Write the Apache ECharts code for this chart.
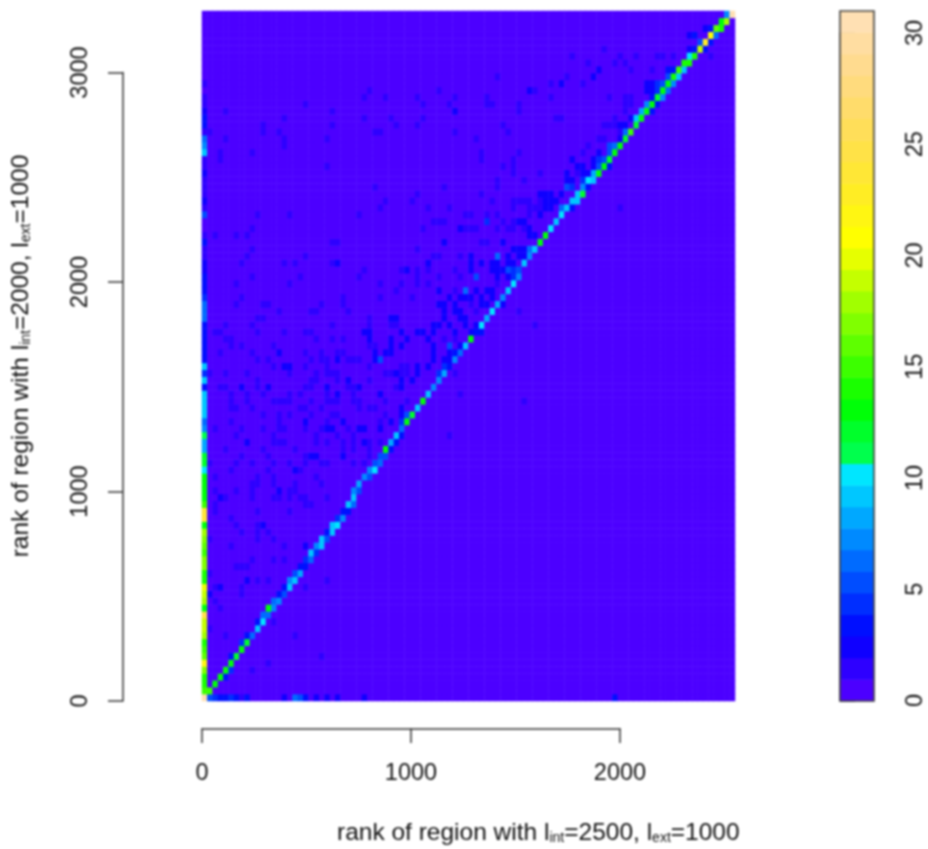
<!DOCTYPE html>
<html><head><meta charset="utf-8">
<style>html,body{margin:0;padding:0;background:#fff}#c{width:928px;height:849px;filter:blur(0.8px)}</style>
<script src="https://cdn.jsdelivr.net/npm/echarts@6/dist/echarts.min.js"></script>
</head><body><div id="c"></div>
<script>
const binCount = 100;
const xTicksMax = 2000, yTicksMax = 3000, barTicksMax = 30, barMax = 31;
const levelColors = ['#4C00FF','#2E00FF','#0F00FF','#000FFF','#002EFF','#004DFF','#006BFF','#008AFF','#00A8FF','#00C7FF','#00E6FF',
 '#00FF4D','#00FF2B','#00FF08','#1AFF00','#3CFF00','#5EFF00','#80FF00','#A1FF00','#C4FF00','#E6FF00',
 '#FFFF00','#FFF612','#FFED24','#FFE736','#FFE247','#FFDE59','#FFDC6B','#FFDB7D','#FFDB8F','#FFDDA1','#FFE0B3'];
// first column, from the bottom row up
const firstColumn = [31,15,14,14,17,22,16,15,14,18,19,19,25,13,18,19,20,14,14,17,17,15,16,17,18,13,24,24,15,13,
 13,13,13,10,12,12,8,8,11,7,6,9,9,9,9,3,9,4,9,3,3,3,3,3,3,6,6,6,4,3,3,3,2,2,1,1,3,1,0,0,5,1,2,1,1,1,2,1,1,9,7,6,1,3,3,2,1,1,0,1,0,0,0,0,0,0,0,0,0,0];
// bottom row: [column, value]
const bottomRow = [[1,5],[2,4],[3,3],[4,3],[5,4],[6,3],[7,1],[8,3],[15,2],[17,6],[18,5],[19,3],[21,2],[23,2],[25,2],[30,2],[77,3]];
// ridge cells: [column, row, value]
const ridge = [[1,1,15],[2,2,13],[3,3,13],[4,3,3],[4,4,13],[5,4,4],[5,5,13],[5,6,3],[6,6,12],[7,7,13],[7,8,4],[8,8,12],[8,9,3],[9,9,6],[10,10,9],[10,11,3],[11,11,10],[11,12,6],[12,12,6],[12,13,13],[13,13,7],[13,14,6],[14,14,7],[14,15,3],[15,15,5],[15,16,3],[16,16,9],[16,17,7],[17,17,9],[17,18,5],[18,18,8],[18,19,3],[19,19,3],[19,20,4],[20,20,6],[20,21,9],[21,21,4],[21,22,7],[22,22,9],[22,23,9],[23,23,5],[23,24,3],[24,24,9],[24,25,9],[25,25,10],[25,26,4],[26,26,7],[26,27,3],[27,27,3],[27,28,9],[28,28,6],[28,29,9],[28,30,7],[29,30,5],[29,31,8],[30,32,7],[31,32,5],[31,33,7],[32,33,10],[32,34,5],[33,34,6],[33,35,5],[34,35,5],[34,36,13],[35,36,3],[35,37,8],[36,38,9],[36,37,3],[37,39,6],[37,38,3],[37,40,4],[38,40,13],[38,41,5],[39,41,12],[40,42,9],[41,43,13],[42,44,9],[43,45,7],[44,46,7],[44,47,4],[45,47,8],[45,48,4],[46,48,3],[47,49,7],[47,50,3],[48,50,6],[49,51,9],[50,52,13],[51,53,3],[52,53,3],[52,54,10],[53,55,8],[54,56,10],[55,57,8],[56,58,7],[57,59,9],[58,60,10],[58,61,4],[59,61,7],[58,62,4],[59,62,5],[60,63,9],[61,64,7],[61,65,6],[62,65,9],[63,66,13],[64,67,13],[65,68,10],[66,69,9],[67,70,10],[68,71,9],[67,71,6],[69,71,3],[69,72,9],[70,72,9],[70,73,9],[71,73,12],[71,74,7],[72,74,3],[72,75,10],[73,75,9],[73,76,8],[74,76,13],[74,77,5],[75,77,13],[76,77,3],[75,78,5],[76,78,12],[76,79,5],[77,79,13],[77,80,6],[78,80,13],[79,81,12],[79,82,6],[80,82,15],[81,83,12],[81,84,9],[82,84,13],[82,85,8],[83,85,13],[84,85,3],[83,86,7],[84,86,13],[85,86,3],[85,87,12],[86,87,7],[84,87,3],[86,88,13],[87,88,6],[85,88,4],[87,89,13],[88,89,7],[85,89,4],[86,89,5],[87,90,5],[88,90,14],[89,90,9],[89,91,15],[90,91,9],[88,91,3],[87,91,3],[90,92,14],[91,92,14],[91,93,10],[92,93,14],[93,94,19],[94,94,3],[92,94,3],[91,94,2],[93,95,5],[94,95,23],[95,95,3],[95,96,21],[96,96,6],[91,96,2],[92,96,3],[96,97,16],[97,97,14],[94,97,2],[95,97,3],[97,98,13],[98,98,18],[98,99,7],[99,99,31]];
// scattered cells above and below the ridge: [column, row, value]
const speckles = [[55,90,1],[31,88,1],[44,88,1],[61,88,2],[30,87,1],[34,87,1],[40,87,1],[47,87,1],[53,87,1],[19,86,1],[41,86,1],[46,86,1],[53,86,1],[54,86,1],[59,86,1],[24,85,1],[47,85,2],[59,85,1],[15,84,1],[30,84,1],[35,84,1],[41,84,1],[24,83,1],[36,83,1],[40,83,1],[56,83,1],[32,82,1],[33,82,1],[47,82,1],[57,82,1],[23,81,1],[15,81,1],[15,80,1],[51,81,1],[52,79,1],[52,78,1],[59,79,1],[23,77,1],[56,77,1],[58,76,1],[55,75,1],[55,74,1],[32,74,1],[45,74,1],[40,73,1],[52,73,1],[34,72,1],[39,72,1],[54,72,1],[58,72,1],[59,72,1],[60,72,1],[58,71,1],[61,71,1],[33,71,1],[42,71,1],[46,71,1],[16,70,1],[29,70,1],[49,70,1],[50,70,1],[53,70,1],[55,70,1],[61,70,1],[43,69,1],[44,69,1],[45,69,1],[53,69,4],[56,69,1],[58,69,1],[59,69,2],[60,69,2],[41,68,1],[48,68,2],[49,68,1],[50,68,1],[51,68,1],[55,68,1],[57,68,1],[58,68,1],[60,68,1],[61,68,2],
[75,94,1],[69,93,1],[78,93,1],[81,93,1],[85,93,1],[86,93,1],[88,93,1],[95,93,1],[72,92,1],[77,92,1],[79,92,1],[74,91,2],[80,91,1],[84,91,1],[68,90,1],[73,90,2],[65,89,1],[67,89,2],[71,89,1],[83,89,2],[84,89,2],[62,88,1],[83,88,2],[84,88,2],[65,87,1],[76,87,1],[79,87,1],[80,87,1],[79,86,1],[80,86,1],[66,84,1],[67,84,1],[77,84,1],[79,85,1],[80,84,2],[75,83,1],[76,83,1],[77,83,1],[78,83,2],[79,83,2],[74,81,1],[75,81,1],[78,81,2],[78,82,1],[72,80,1],[76,80,5],[71,79,1],[74,79,2],[58,78,1],[58,77,1],[69,78,2],[70,77,2],[71,77,2],[73,78,2],[74,78,4],[73,77,2],[63,76,1],[68,76,2],[68,75,2],[70,76,1],[71,76,2],[72,76,2],[60,75,1],[69,75,2],[71,75,4],[68,74,5],[69,74,4],[63,73,2],[64,73,2],[65,73,2],[67,73,2],[61,72,1],[63,72,1],[64,72,2],[65,72,2],[66,72,2],[62,71,1],[63,71,1],[64,71,2],[65,71,2],[67,71,6],[63,70,2],[78,71,1],
[25,66,1],[45,66,2],[52,66,1],[53,66,1],[56,66,2],[61,67,2],[62,67,2],[40,65,1],[43,64,1],[44,64,1],[48,64,1],[50,64,2],[55,64,6],[57,64,2],[59,64,2],[60,64,2],[58,65,2],[59,65,2],[60,65,2],[24,63,1],[25,63,2],[42,63,2],[50,63,2],[52,63,2],[54,63,2],[55,63,2],[57,63,2],[58,63,2],[30,62,1],[37,62,1],[38,62,2],[40,62,1],[42,62,1],[47,62,1],[50,62,2],[54,62,2],[55,62,2],[56,62,2],[57,62,5],[29,61,1],[40,61,1],[44,61,1],[48,61,1],[51,61,5],[55,61,2],[57,61,2],[33,60,1],[37,60,1],[40,60,1],[42,60,1],[55,60,1],[36,59,1],[44,59,2],[47,59,1],[49,59,6],[51,59,2],[53,59,2],[54,59,2],[26,58,1],[33,58,1],[39,58,1],[46,58,2],[48,58,2],[49,58,2],[50,58,2],[52,58,2],[54,58,2],[26,57,1],[44,57,2],[45,57,2],[47,57,2],[50,57,1],[52,57,2],[53,57,2],[56,57,2],[27,56,1],[45,56,2],[47,56,2],[48,56,2],[51,56,1],[59,56,1],[31,55,1],[35,55,2],[36,55,2],[45,55,2],[48,55,2],[49,55,2],[24,54,1],[31,54,1],[35,54,1],[36,54,1],[43,54,2],[44,54,2],[46,54,2],[49,54,2],[51,54,2],[62,54,1],[30,53,2],[31,53,2],[37,53,2],[40,53,2],[41,53,2],[43,53,2],[47,53,2],[50,53,2],[24,52,1],[26,52,1],[31,52,2],[35,52,2],[38,52,2],[42,52,2],[45,52,1],[47,52,1],[31,51,1],[32,51,1],[35,51,2],[37,51,2],[43,51,2],[46,51,5],[48,51,2],[25,50,1],[26,50,1],[32,50,2],[34,50,2],[35,50,2],[43,50,2],[46,50,2],[25,49,2],[27,49,1],[28,49,1],[29,49,1],[32,49,2],[33,49,5],[43,49,2],[45,49,2],[46,49,2],[31,48,1],[37,48,1],[38,48,1],[40,48,2],[42,48,2],[25,47,1],[34,47,1],[35,47,1],[36,47,2],[37,47,1],[38,47,1],[40,47,2],[47,47,1],[25,46,1],[27,46,2],[31,46,1],[37,46,2],[39,46,2],[27,45,1],[28,45,1],[29,45,2],[36,45,1],[37,45,2],[25,44,2],[28,44,1],[33,44,2],[48,44,1],[24,43,1],[25,43,1],[28,43,1],[29,43,1],[34,43,1],[38,43,1],[60,43,1],[29,42,1],[31,42,1],[32,42,1],[37,42,2],[24,41,1],[25,41,1],[34,41,1],[37,41,2],[26,40,2],[33,40,1],[35,40,2],[24,39,2],[27,39,1],[29,39,2],[30,39,2],[33,39,2],[25,38,1],[28,38,1],[46,38,1],[26,37,1],[28,37,1],[30,37,2],[31,37,1],[33,37,1],[26,36,1],[28,36,1],[31,36,1],[35,36,2],[26,35,2],[31,35,1],[28,34,1],[30,34,1],
[24,66,1],[19,64,1],[17,63,1],[15,63,1],[18,61,1],[16,60,1],[22,57,1],[20,56,1],[21,56,1],[24,54,1],[15,53,1],[19,53,1],[20,53,1],[21,52,1],[24,52,1],[19,50,1],[22,50,1],[20,49,1],[22,49,1],[23,49,1],[15,48,2],[16,48,2],[19,48,1],[23,48,1],[16,47,1],[21,47,1],[23,47,1],[24,47,1],[20,46,1],[21,46,1],[19,45,1],[20,45,1],[23,45,2],[16,44,1],[18,44,1],[23,44,1],[15,43,1],[16,43,1],[20,43,1],[23,43,1],[18,42,1],[19,42,1],[22,42,1],[16,41,1],[20,41,1],[24,41,1],[19,40,2],[23,40,1],[15,39,1],[19,39,1],[22,39,1],[23,39,2],[24,39,2],[21,38,1],[21,37,1],[23,37,1],[17,36,1],[19,35,1],[20,35,2],[21,35,2],[16,34,1],[19,34,1],[22,34,1],[23,34,1],[17,33,2],[18,33,1],[21,32,1],[17,31,1],[22,31,1],[16,30,1],[17,30,1],[16,29,1],[18,29,1],[19,29,1],[23,29,1],
[4,85,1],[15,84,1],[11,83,1],[11,82,1],[1,82,1],[14,82,1],[4,81,1],[3,79,1],[3,78,1],[9,79,1],[10,70,1],[9,68,1],[2,67,1],[6,67,1],[8,67,1],[9,65,1],[8,64,1],[7,63,1],[9,61,1],[6,60,1],[7,58,1],[6,57,1],[11,57,1],[12,57,1],[14,56,1],[10,55,1],[11,55,1],[4,54,1],[9,54,1],[2,53,1],[3,53,1],[10,53,1],[4,52,1],[5,52,1],[5,51,1],[7,51,1],[13,51,1],[3,50,1],[9,50,1],[14,50,2],[10,49,1],[12,49,1],[13,48,1],[15,48,2],[1,47,1],[4,47,1],[8,47,1],[10,46,1],[3,45,1],[4,45,1],[7,45,2],[10,45,1],[12,45,2],[5,44,1],[8,44,1],[11,44,1],[5,43,1],[8,43,1],[13,43,1],[14,43,1],[15,43,1],[5,42,1],[6,42,1],[9,42,1],[11,41,1],[14,41,1],[5,40,1],[14,40,1],[2,39,1],[7,39,1],[11,39,1],[14,39,1],[6,38,1],[13,38,1],[8,37,2],[13,37,1],[14,37,1],[15,37,1],[4,36,1],[11,36,1],[7,35,1],[12,35,1],[1,34,1],[6,34,1],[9,34,1],[13,34,1],[5,33,1],[12,33,1],[2,32,1],[10,32,1],[13,32,1],[9,31,1],[10,31,1],[13,31,1],[2,30,1],[6,30,1],[9,30,1],[14,30,2],[3,29,2],[4,29,1],[9,29,1],[13,29,1],[14,29,1],
[2,28,1],[2,27,1],[10,27,1],[16,27,1],[19,28,1],[20,28,1],[5,26,1],[6,25,1],[10,25,1],[11,25,2],[7,24,1],[10,24,1],[12,24,1],[1,23,1],[10,23,1],[13,23,1],[5,22,1],[15,22,1],[19,22,2],[9,20,1],[13,20,1],[15,20,1],[6,19,1],[7,19,1],[8,19,1],[1,18,1],[8,17,2],[10,17,1],[12,17,1],[23,17,1],[2,16,1],[3,16,2],[7,16,1],[19,16,1],[1,15,2],[7,15,1],[2,14,1],[3,13,1],[1,10,1],[13,11,1],[4,9,1],[17,9,1],[22,6,1],[12,5,1],[9,4,1]];

const matrix = [];
for (let r = 0; r < binCount; r++) matrix.push(new Array(binCount).fill(0));
speckles.forEach(([c, r, v]) => { matrix[r][c] = v; });
ridge.forEach(([c, r, v]) => { matrix[r][c] = v; });
bottomRow.forEach(([c, v]) => { matrix[0][c] = v; });
firstColumn.forEach((v, r) => { matrix[r][0] = v; });
const cells = [];
matrix.forEach((row, r) => row.forEach((v, c) => cells.push([c, r, v])));

const step = barMax / levelColors.length;
const pieces = levelColors.map((color, k) => (
  k === levelColors.length - 1 ? {gte: k * step, color} : {gte: k * step, lt: (k + 1) * step, color}));
const barCells = levelColors.map((_, k) => [0, k, (k + 0.5) * step]);
const bins = n => Array.from({length: n}, (_, i) => i);

const ink = '#111111', rule = '#333333', font = '"Liberation Sans", Arial, sans-serif';
const labelSize = 23.5;
const plain = v => String(v);
const subStyle = {fontSize: 14, fontFamily: font, color: ink, padding: [9, 0, 0, 0]};

const chart = echarts.init(document.getElementById('c'), null, {renderer: 'canvas'});
chart.setOption({
  animation: false,
  backgroundColor: '#fff',
  title: {
    text: 'rank of region with l{sub|int}=2500, l{sub|ext}=1000',
    left: 337, top: 821, padding: 0,
    textStyle: {fontSize: 24.5, fontWeight: 'normal', fontFamily: font, color: ink, rich: {sub: subStyle}}
  },
  grid: [
    {left: 202, top: 11, width: 533, height: 690},
    {left: 202, top: 700, width: 418, height: 28.5},
    {left: 123, top: 72.5, width: 40, height: 628.5},
    {left: 840, top: 11, width: 34, height: 690, show: true, z: 5, backgroundColor: 'transparent', borderColor: '#444', borderWidth: 1.6},
    {left: 840, top: 33, width: 34, height: 667.5}
  ],
  xAxis: [
    {gridIndex: 0, type: 'category', data: bins(binCount), show: false},
    {gridIndex: 1, type: 'value', min: 0, max: xTicksMax, interval: 1000, splitLine: {show: false},
      axisLine: {show: true, lineStyle: {color: rule, width: 1.5}},
      axisTick: {show: true, length: 14.5, lineStyle: {color: rule, width: 1.5}},
      axisLabel: {show: true, margin: 33, fontSize: labelSize, fontFamily: font, color: ink, formatter: plain, showMinLabel: true, showMaxLabel: true}},
    {gridIndex: 2, type: 'value', show: false},
    {gridIndex: 3, type: 'category', data: [0], show: false},
    {gridIndex: 4, type: 'value', show: false}
  ],
  yAxis: [
    {gridIndex: 0, type: 'category', data: bins(binCount), axisLine: {show: false}, axisTick: {show: false}, axisLabel: {show: false},
      name: 'rank of region with l{sub|int}=2000, l{sub|ext}=1000', nameLocation: 'middle', nameGap: 168, nameRotate: 90,
      nameTextStyle: {fontSize: 24.5, fontFamily: font, color: ink, rich: {sub: subStyle}}},
    {gridIndex: 1, type: 'value', show: false},
    {gridIndex: 2, type: 'value', min: 0, max: yTicksMax, interval: 1000, splitLine: {show: false},
      axisLine: {show: true, lineStyle: {color: rule, width: 1.5}},
      axisTick: {show: true, length: 15, lineStyle: {color: rule, width: 1.5}},
      axisLabel: {show: true, rotate: 90, margin: 30, fontSize: labelSize, fontFamily: font, color: ink, formatter: plain, showMinLabel: true, showMaxLabel: true}},
    {gridIndex: 3, type: 'category', data: bins(levelColors.length), show: false},
    {gridIndex: 4, type: 'value', position: 'right', min: 0, max: barTicksMax, interval: 5, splitLine: {show: false},
      axisLine: {show: true, lineStyle: {color: '#444', width: 1.6}},
      axisTick: {show: true, length: 15, lineStyle: {color: rule, width: 1.5}},
      axisLabel: {show: true, rotate: 90, margin: 36, fontSize: labelSize, fontFamily: font, color: ink, formatter: plain, showMinLabel: true, showMaxLabel: true}}
  ],
  visualMap: {show: false, type: 'piecewise', dimension: 2, seriesIndex: [0, 1], pieces},
  series: [
    {type: 'heatmap', xAxisIndex: 0, yAxisIndex: 0, data: cells, progressive: 0, silent: true, emphasis: {disabled: true}},
    {type: 'heatmap', xAxisIndex: 3, yAxisIndex: 3, data: barCells, progressive: 0, silent: true, emphasis: {disabled: true}}
  ]
});
</script></body></html>
